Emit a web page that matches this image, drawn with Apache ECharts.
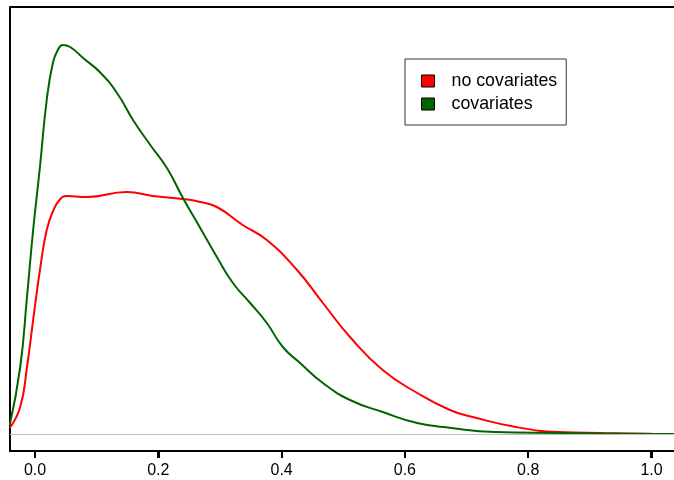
<!DOCTYPE html>
<html>
<head>
<meta charset="utf-8">
<script src="https://cdn.jsdelivr.net/npm/echarts@6/dist/echarts.min.js"></script>
<style>
  html, body { margin: 0; padding: 0; background: #fff; }
  #chart { width: 674px; height: 480px; }
</style>
</head>
<body>
<div id="chart"></div>
<script>
// density curves
const redX = [-0.041, -0.024, -0.013, -0.003, 0.008, 0.019, 0.030, 0.041, 0.051, 0.084, 0.149, 0.191, 0.240, 0.268, 0.295, 0.337, 0.376, 0.425, 0.467, 0.511, 0.564, 0.620, 0.673, 0.710, 0.780, 0.850, 0.920, 1.000, 1.050]
const redY = [0.06, 0.27, 0.67, 1.14, 1.64, 2.04, 2.24, 2.35, 2.38, 2.37, 2.42, 2.38, 2.35, 2.32, 2.27, 2.09, 1.94, 1.64, 1.31, 0.97, 0.64, 0.41, 0.24, 0.17, 0.07, 0.02, 0.01, 0.003, 0.0]

const greenX = [-0.041, -0.024, -0.013, -0.003, 0.008, 0.019, 0.029, 0.037, 0.045, 0.057, 0.078, 0.105, 0.133, 0.159, 0.187, 0.214, 0.240, 0.268, 0.295, 0.321, 0.349, 0.376, 0.402, 0.430, 0.467, 0.511, 0.564, 0.620, 0.675, 0.745, 0.850, 1.000, 1.050]
const greenY = [0.09, 0.67, 1.37, 2.04, 2.67, 3.34, 3.71, 3.84, 3.89, 3.87, 3.76, 3.62, 3.41, 3.14, 2.89, 2.66, 2.36, 2.06, 1.77, 1.51, 1.31, 1.11, 0.87, 0.71, 0.51, 0.34, 0.22, 0.11, 0.06, 0.02, 0.01, 0.0, 0.0]

const xTicks = [0, 0.2, 0.4, 0.6, 0.8, 1.0]
const seriesNames = ['no covariates', 'covariates']
const colors = ['#ff0000', '#006400']

const zip = (xs, ys) => xs.map((x, i) => [x, ys[i]])

const X_MIN = -0.04055
const X_MAX = 1.0365
const Y_MIN = -0.17
const Y_MAX = 4.27

const chart = echarts.init(document.getElementById('chart'))

chart.setOption({
  animation: false,
  textStyle: { fontFamily: 'Liberation Sans, Arial, sans-serif' },
  grid: { left: 10, top: 7, right: 0, bottom: 29 },
  legend: {
    orient: 'vertical',
    left: 405, top: 59,
    padding: [13, 9, 12, 16],
    itemGap: 5,
    itemWidth: 13, itemHeight: 12,
    icon: 'rect',
    borderColor: '#333', borderWidth: 1,
    textStyle: { fontSize: 17.8, color: '#000', lineHeight: 17, padding: [0, 0, 0, 12] },
    data: seriesNames.map((n, i) => ({
      name: n,
      itemStyle: { color: colors[i], borderColor: '#000', borderWidth: 1 }
    }))
  },
  xAxis: {
    type: 'value',
    min: X_MIN, max: X_MAX,
    axisLine: { show: true, onZero: false, lineStyle: { color: '#000', width: 2 } },
    splitLine: { show: false },
    axisTick: {
      show: true, customValues: xTicks, length: 7,
      lineStyle: { color: '#000', width: 2 }
    },
    axisLabel: {
      customValues: xTicks, margin: 12,
      fontSize: 16, color: '#000',
      formatter: v => v.toFixed(1)
    }
  },
  yAxis: {
    type: 'value',
    min: Y_MIN, max: Y_MAX,
    axisLine: { show: true, onZero: false, lineStyle: { color: '#000', width: 2 } },
    axisTick: { show: false },
    axisLabel: { show: false },
    splitLine: { show: false }
  },
  series: [
    {
      name: seriesNames[0],
      type: 'line',
      data: zip(redX, redY),
      smooth: true,
      showSymbol: false,
      itemStyle: { color: colors[0] },
      lineStyle: { color: colors[0], width: 2 },
      markLine: {
        silent: true,
        symbol: 'none',
        label: { show: false },
        lineStyle: { color: '#bdbdbd', width: 1, type: 'solid' },
        data: [{ yAxis: 0 }]
      }
    },
    {
      name: seriesNames[1],
      type: 'line',
      data: zip(greenX, greenY),
      smooth: true,
      showSymbol: false,
      itemStyle: { color: colors[1] },
      lineStyle: { color: colors[1], width: 2 },
      // top edge of the plot frame
      markLine: {
        silent: true,
        symbol: 'none',
        label: { show: false },
        lineStyle: { color: '#000', width: 2, type: 'solid' },
        data: [{ yAxis: Y_MAX }]
      }
    }
  ]
})

// outward tick marks under the x axis, placed through the axis scale
const yBottom = chart.convertToPixel({ yAxisIndex: 0 }, Y_MIN)
chart.setOption({
  graphic: xTicks.map(v => {
    const px = Math.round(chart.convertToPixel({ xAxisIndex: 0 }, v))
    return {
      type: 'line',
      silent: true,
      shape: { x1: px, y1: yBottom, x2: px, y2: yBottom + 7 },
      style: { stroke: '#000', lineWidth: 2 }
    }
  })
})
</script>
</body>
</html>
